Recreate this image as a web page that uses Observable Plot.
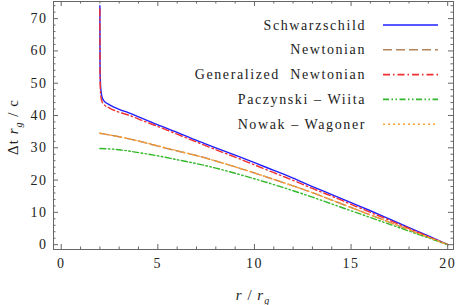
<!DOCTYPE html>
<html><head><meta charset="utf-8">
<script src="https://cdn.jsdelivr.net/npm/d3@7"></script>
<script src="https://cdn.jsdelivr.net/npm/@observablehq/plot@0.6"></script>
<style>
body{margin:0;background:#fff}
#c{position:relative;width:458px;height:305px}
#c svg{position:absolute;left:0;top:0}
</style>
</head><body><div id="c"></div>
<script>
// ---- data ----
const seriesNames = ["Schwarzschild", "Newtonian", "Generalized  Newtonian", "Paczynski – Wiita", "Nowak – Wagoner"];
const seriesColors = ["#1f1fff", "#b5835a", "#f03030", "#33b82a", "#ffa033"];
const seriesDash = [null, "9,4", "7,3,1.5,3", "6,2.5,1.5,2.5,1.5,2.5", "2,3"];

const rSchw = [2.0, 2.005, 2.01, 2.03, 2.06, 2.1, 2.2, 2.5, 3, 3.5, 4, 5, 6, 7, 8, 9, 10, 11, 12, 13, 14, 15, 16, 17, 18, 19, 20];
const tSchw = [74, 60, 54, 50, 47.5, 46, 44.6, 43.3, 41.9, 40.8, 39.6, 37.1, 34.8, 32.3, 30.0, 27.7, 25.4, 23.0, 20.6, 18.0, 15.5, 13.0, 10.5, 7.9, 5.3, 2.7, 0];

const rNewt = [2, 3, 4, 5, 6, 7, 8, 9, 10, 11, 12, 13, 14, 15, 16, 17, 18, 19, 20];
const tNewt = [34.5, 33.4, 32.1, 30.5, 29.0, 27.6, 25.9, 24.1, 22.2, 20.2, 18.2, 16.1, 13.8, 11.5, 9.2, 6.9, 4.6, 2.3, 0];

const rGN = [2.0, 2.005, 2.01, 2.03, 2.06, 2.1, 2.2, 2.5, 3, 3.5, 4, 5, 6, 7, 8, 9, 10, 11, 12, 13, 14, 15, 16, 17, 18, 19, 20];
const tGN = [73, 58, 52, 47.5, 45.5, 44.5, 43.5, 42.3, 41.0, 40.1, 38.9, 36.6, 34.2, 31.8, 29.4, 27.1, 24.7, 22.3, 19.9, 17.4, 15.0, 12.5, 10.0, 7.5, 5.0, 2.5, 0];

const rPW = [2, 3, 4, 5, 6, 7, 8, 9, 10, 11, 12, 13, 14, 15, 16, 17, 18, 19, 20];
const tPW = [29.8, 29.4, 28.5, 27.5, 26.3, 25.1, 23.7, 22.1, 20.4, 18.6, 16.7, 14.7, 12.6, 10.5, 8.4, 6.3, 4.2, 2.1, 0];

const rNW = [2, 3, 4, 5, 6, 7, 8, 9, 10, 11, 12, 13, 14, 15, 16, 17, 18, 19, 20];
const tNW = [34.5, 33.4, 32.1, 30.6, 29.1, 27.6, 25.9, 24.1, 22.2, 20.2, 18.2, 16.1, 13.8, 11.5, 9.2, 6.9, 4.6, 2.3, 0];

const xMajor = [0, 5, 10, 15, 20];
const xMinor = d3.range(0, 21, 1).filter(v => v % 5 !== 0);
const yMajor = [0, 10, 20, 30, 40, 50, 60, 70];
const yMinor = d3.range(0, 75, 2).filter(v => v % 10 !== 0);

const seriesR = [rSchw, rNewt, rGN, rPW, rNW];
const seriesT = [tSchw, tNewt, tGN, tPW, tNW];
const rows = seriesNames.map((name, i) => seriesR[i].map((r, j) => ({series: name, r, t: seriesT[i][j]})));

const W = 458, H = 305, mL = 53, mR = 5, mT = 1, mB = 56;
const innerW = W - mL - mR, innerH = H - mT - mB;
const majorLen = 5, minorLen = 2.5;
const tickColor = "#666";
const textColor = "#222";
const font = "Liberation Serif";

const chart = Plot.plot({
  width: W, height: H,
  marginLeft: mL, marginRight: mR, marginTop: mT, marginBottom: mB,
  x: {domain: [-0.4, 20.3]},
  y: {domain: [-1.5, 75.3]},
  style: {fontFamily: font, fontSize: "14px", color: textColor, background: "white"},
  marks: [
    ...rows.map((data, i) => Plot.line(data, {
      x: "r", y: "t", stroke: seriesColors[i], strokeWidth: 1.4,
      strokeDasharray: seriesDash[i], curve: "monotone-x", clip: true
    })),
    Plot.frame({stroke: tickColor}),
    // inward frame ticks on all four sides
    Plot.tickX(xMajor, {x: d => d, stroke: tickColor, insetTop: innerH - majorLen}),
    Plot.tickX(xMinor, {x: d => d, stroke: tickColor, insetTop: innerH - minorLen}),
    Plot.tickX(xMajor, {x: d => d, stroke: tickColor, insetBottom: innerH - majorLen}),
    Plot.tickX(xMinor, {x: d => d, stroke: tickColor, insetBottom: innerH - minorLen}),
    Plot.tickY(yMajor, {y: d => d, stroke: tickColor, insetRight: innerW - majorLen}),
    Plot.tickY(yMinor, {y: d => d, stroke: tickColor, insetRight: innerW - minorLen}),
    Plot.tickY(yMajor, {y: d => d, stroke: tickColor, insetLeft: innerW - majorLen}),
    Plot.tickY(yMinor, {y: d => d, stroke: tickColor, insetLeft: innerW - minorLen}),
    Plot.axisX({ticks: xMajor, tickSize: 0, tickPadding: 9, fill: textColor, label: null}),
    Plot.axisY({ticks: yMajor, tickSize: 0, tickPadding: 6, fill: textColor, label: null})
  ]
});
document.getElementById("c").appendChild(chart);
const svg = d3.select(chart);
svg.selectAll("text").attr("font-family", font).attr("letter-spacing", "1.5px");

// axis labels
const xl = svg.append("text").attr("x", 253).attr("y", 300).attr("text-anchor", "middle")
  .attr("font-family", font).attr("font-size", 15).attr("fill", textColor).attr("letter-spacing", "1px");
xl.append("tspan").attr("font-style", "italic").text("r");
xl.append("tspan").text(" / ");
xl.append("tspan").attr("font-style", "italic").text("r");
xl.append("tspan").attr("font-style", "italic").attr("font-size", 10).attr("dy", 4).text("g");

const yl = svg.append("text").attr("transform", "translate(18,127) rotate(-90)").attr("text-anchor", "middle")
  .attr("font-family", font).attr("font-size", 15).attr("fill", textColor).attr("letter-spacing", "1px");
yl.append("tspan").text("Δt ");
yl.append("tspan").attr("font-style", "italic").text("r");
yl.append("tspan").attr("font-style", "italic").attr("font-size", 10).attr("dy", 4).text("g");
yl.append("tspan").attr("dy", -4).text(" / c");

// legend
const leg = d3.select("#c").append("svg").attr("width", W).attr("height", H).style("pointer-events", "none");
seriesNames.forEach((name, i) => {
  const cy = 25 + i * 24.8;
  leg.append("text").attr("x", 366).attr("y", cy + 4.5).attr("text-anchor", "end")
    .attr("font-family", font).attr("font-size", 14).attr("letter-spacing", "1.6px").attr("fill", textColor)
    .style("white-space", "pre").text(name);
  leg.append("line").attr("x1", 383).attr("x2", 438).attr("y1", cy).attr("y2", cy)
    .attr("stroke", seriesColors[i]).attr("stroke-width", 1.6).attr("stroke-dasharray", seriesDash[i]);
});
</script></body></html>
